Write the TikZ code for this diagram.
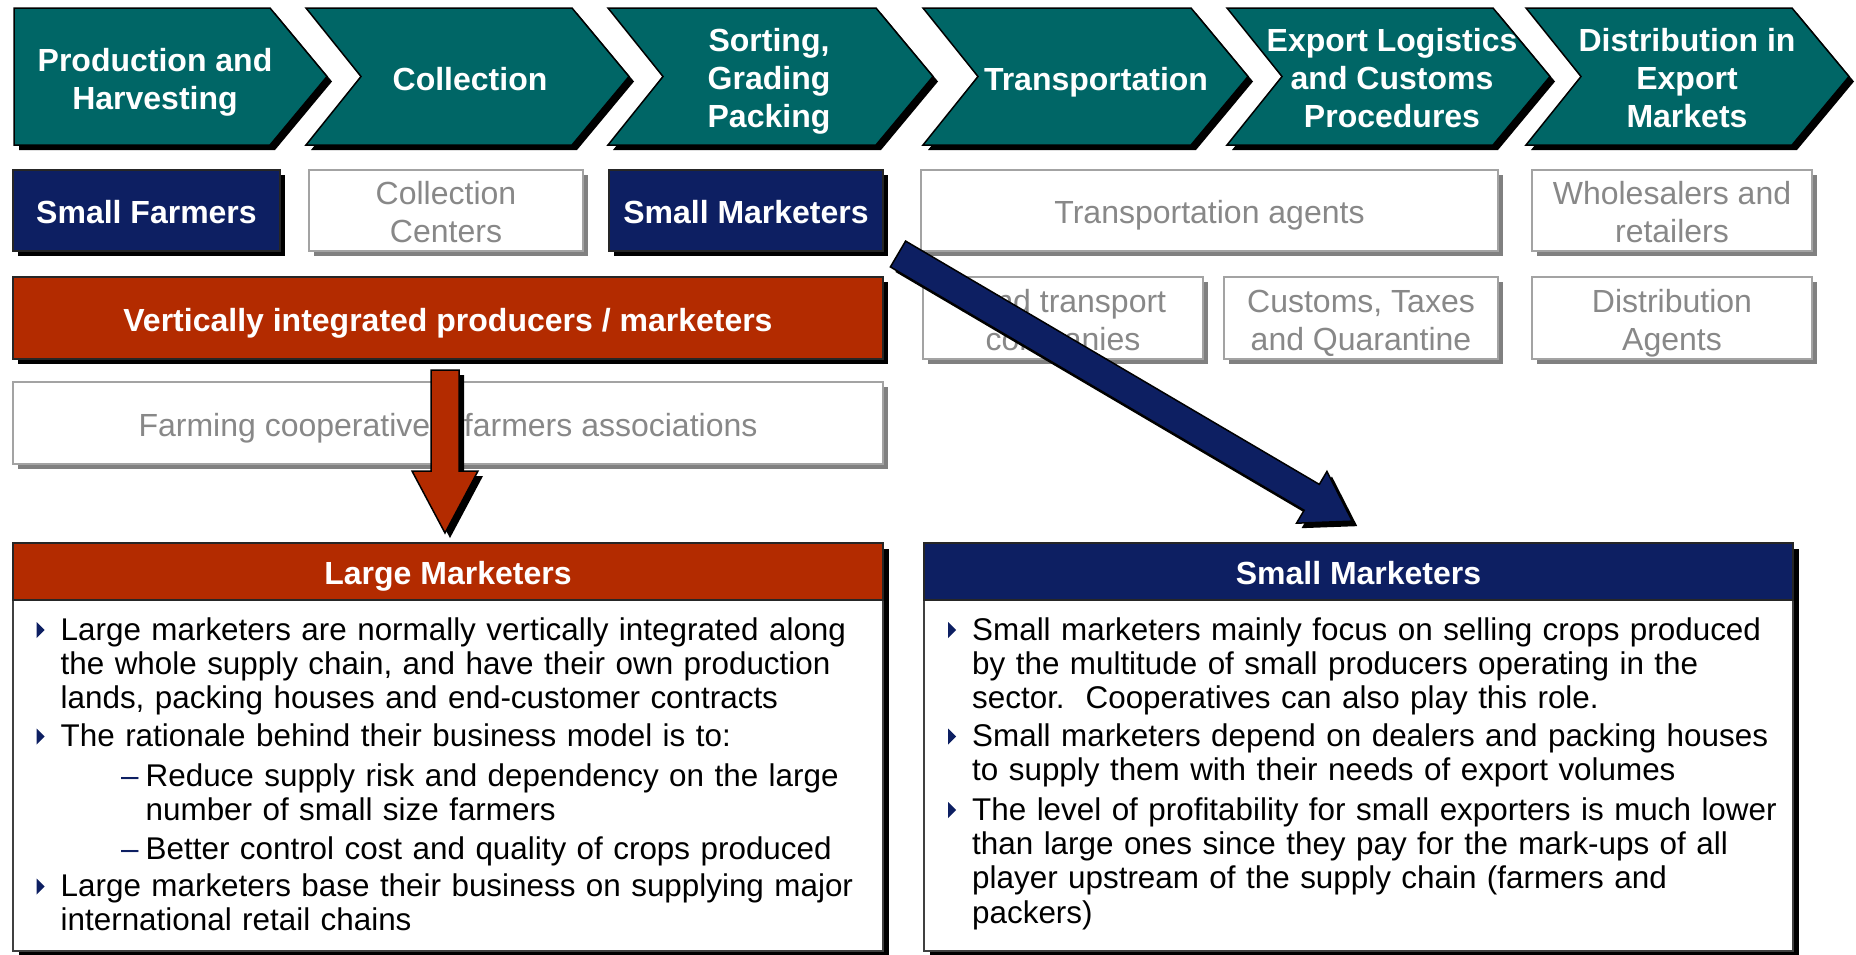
\documentclass[tikz,border=0pt]{standalone}
\usepackage{fontspec}
\setmainfont{Liberation Sans}
\usepackage{xcolor}
\usepackage{tikz}
\usetikzlibrary{calc, shadows}
\definecolor{chevteal}{HTML}{006666}
\definecolor{navyblue}{HTML}{0D1F62}
\definecolor{rustred}{HTML}{B32B00}
\definecolor{boxgray}{HTML}{A3A3A3}
\definecolor{shadegray}{HTML}{808080}
\definecolor{labelgray}{HTML}{888888}
\newcommand{\tribul}{\tikz[x=1pt,y=1pt,baseline=0pt]\fill[navyblue] (0,2) -- (0,18) -- (8,10) -- cycle;}
\newcommand{\subdash}{\textcolor{navyblue}{–}}
\newcommand{\boxstrut}{\rule[-0.212em]{0pt}{1.262em}}

\begin{document}
\begin{tikzpicture}[x=1pt, y=-1pt,
    blkshade/.style={drop shadow={shadow xshift=5pt, shadow yshift=-5pt, fill=black, opacity=1}},
    single/.style={execute at begin node=\boxstrut, execute at end node=\boxstrut},
    twolines/.style={text height=70.8pt, text depth=6.8pt},
    threelines/.style={text height=108.5pt, text depth=6.8pt},
    chev/.style={fill=chevteal, draw=black, line width=1.5pt, blkshade},
    chevtxt/.style={text=white, font=\fontsize{32}{38}\selectfont\bfseries, align=center},
    darkbox/.style={draw=black!85, line width=1.2pt, text=white, font=\fontsize{32}{38}\selectfont\bfseries,
      minimum height=81pt, inner sep=0pt, single, blkshade},
    lightbox/.style={fill=white, draw=boxgray, line width=1.5pt, text=labelgray, font=\fontsize{32}{38}\selectfont,
      align=center, minimum height=81pt, inner sep=0pt, single,
      drop shadow={shadow xshift=5pt, shadow yshift=-5pt, fill=shadegray, opacity=1}},
    panel/.style={fill=white, draw=black!75, line width=1.5pt, inner sep=0pt,
      drop shadow={shadow xshift=6pt, shadow yshift=-6pt, fill=black, opacity=1}},
    panelhead/.style={draw=black!85, line width=1.5pt, text=white, font=\fontsize{32}{38}\selectfont\bfseries,
      inner sep=0pt, single},
    bodytxt/.style={anchor=base west, text width=840pt, align=left, inner sep=0pt, font=\fontsize{31.4}{34.4}\selectfont},
    blockarr/.style={line width=1.5pt, draw=black}]
  \useasboundingbox (0,0) rectangle (1856,954);

  % value chain steps
  \foreach \lx/\w/\nd/\tx/\nm/\ls/\lbl in {14/256/0/155/prod/twolines/{Production and\\Harvesting},
      306/266/55/470/coll/single/Collection, 608/268/55/769/sort/threelines/{Sorting,\\Grading\\Packing},
      923/268/55/1096/trans/single/Transportation, 1227/266/55/1392/expo/threelines/{Export Logistics\\and Customs\\Procedures},
      1526/266/55/1687/dist/threelines/{Distribution in\\Export\\Markets}} {
    \draw[chev] (\lx,8) -- ++(\w,0) -- ++(57,68.5) -- ++(-57,68.5) -- (\lx,145) -- ++(\nd,-68.5) -- cycle;
    \node[chevtxt, \ls] (\nm) at (\tx,77) {\lbl};
  }

  % players
  \node[darkbox, fill=navyblue, minimum width=267pt] (sfarm) at (146.5,210.5) {Small Farmers};
  \node[lightbox, twolines, minimum width=274pt] (ccent) at (446,210.5) {Collection\\Centers};
  \node[darkbox, fill=navyblue, minimum width=274pt] (smark) at (746,210.5) {Small Marketers};
  \node[lightbox, minimum width=577pt] (tagent) at (1209.5,210.5) {Transportation agents};
  \node[lightbox, twolines, minimum width=280pt] (whole) at (1672,210.5) {Wholesalers and\\retailers};
  \node[darkbox, fill=rustred, minimum width=870pt, minimum height=82pt] (vint) at (448,318) {Vertically integrated producers / marketers};
  \node[lightbox, twolines, minimum width=280pt, minimum height=82pt] (landt) at (1063,318) {Land transport\\companies};
  \node[lightbox, twolines, minimum width=274pt, minimum height=82pt] (cust) at (1361,318) {Customs, Taxes\\and Quarantine};
  \node[lightbox, twolines, minimum width=280pt, minimum height=82pt] (distag) at (1672,318) {Distribution\\Agents};
  \node[lightbox, minimum width=870pt, minimum height=82pt] (farmco) at (448,423) {Farming cooperatives/ farmers associations};

  % block arrows
  \coordinate (rtail) at (445,370);
  \coordinate (btail) at (898,254);
  \begin{scope}[shift={(rtail)}, shift={(5,5)}, rotate=-90]
    \fill[black] (0,-14) -- (101,-14) -- (101,-33) -- (163,0) -- (101,33) -- (101,14) -- (0,14) -- cycle;
  \end{scope}
  \begin{scope}[shift={(rtail)}, rotate=-90]
    \draw[blockarr, fill=rustred] (0,-14) -- (101,-14) -- (101,-33) -- (163,0) -- (101,33) -- (101,14) -- (0,14) -- cycle;
    \coordinate (rtip) at (163,0);
  \end{scope}
  \begin{scope}[shift={(btail)}, shift={(5,5)}, rotate=-30.46]
    \fill[black] (0,-15) -- (480,-15) -- (480,-30) -- (527,0) -- (480,30) -- (480,15) -- (0,15) -- cycle;
  \end{scope}
  \begin{scope}[shift={(btail)}, rotate=-30.46]
    \draw[blockarr, fill=navyblue] (0,-15) -- (480,-15) -- (480,-30) -- (527,0) -- (480,30) -- (480,15) -- (0,15) -- cycle;
    \coordinate (btip) at (527,0);
  \end{scope}

  % large marketers
  \node[panel, minimum width=870pt, minimum height=408pt] (lmbox) at (448,747) {};
  \node[panelhead, fill=rustred, minimum width=870pt, minimum height=57pt] (lmhead) at (448,571.5) {Large Marketers};
  \node[bodytxt] (lm1) at (60.5,640) {\leavevmode\llap{\tribul\hspace{16pt}}Large marketers are normally vertically integrated along\\the whole supply chain, and have their own production\\lands, packing houses and end-customer contracts};
  \node[bodytxt] (lm2) at (60.5,746.5) {\leavevmode\llap{\tribul\hspace{16pt}}The rationale behind their business model is to:};
  \node[bodytxt] (lm2a) at (145.5,786) {\leavevmode\llap{\subdash\hspace{7pt}}Reduce supply risk and dependency on the large\\number of small size farmers};
  \node[bodytxt] (lm2b) at (145.5,859) {\leavevmode\llap{\subdash\hspace{7pt}}Better control cost and quality of crops produced};
  \node[bodytxt] (lm3) at (60.5,896.5) {\leavevmode\llap{\tribul\hspace{16pt}}Large marketers base their business on supplying major\\international retail chains};

  % small marketers
  \node[panel, minimum width=869pt, minimum height=408pt] (smbox) at (1358.5,747) {};
  \node[panelhead, fill=navyblue, minimum width=869pt, minimum height=57pt] (smhead) at (1358.5,571.5) {Small Marketers};
  \node[bodytxt] (sm1) at (972,640) {\leavevmode\llap{\tribul\hspace{16pt}}Small marketers mainly focus on selling crops produced\\by the multitude of small producers operating in the\\sector.\ \ Cooperatives can also play this role.};
  \node[bodytxt] (sm2) at (972,746.5) {\leavevmode\llap{\tribul\hspace{16pt}}Small marketers depend on dealers and packing houses\\to supply them with their needs of export volumes};
  \node[bodytxt] (sm3) at (972,820) {\leavevmode\llap{\tribul\hspace{16pt}}The level of profitability for small exporters is much lower\\than large ones since they pay for the mark-ups of all\\player upstream of the supply chain (farmers and\\packers)};
\end{tikzpicture}
\end{document}
